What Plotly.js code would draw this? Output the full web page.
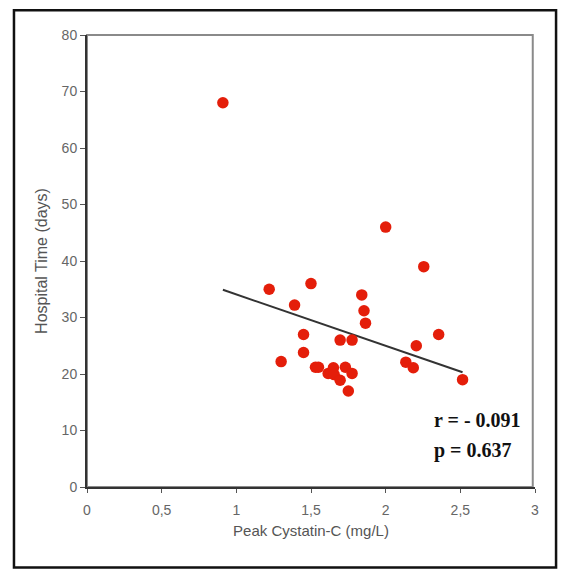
<!DOCTYPE html>
<html>
<head>
<meta charset="utf-8">
<script src="https://cdn.plot.ly/plotly-3.0.1.min.js"></script>
<style>
html,body{margin:0;padding:0;background:#fff;}
#chart{width:561px;height:570px;}
</style>
</head>
<body>
<div id="chart"></div>
<script>
// Data
var cystatin = [0.91, 1.22, 1.30, 1.39, 1.45, 1.45, 1.50, 1.53, 1.55, 1.615, 1.65, 1.655, 1.695, 1.73, 1.775, 1.75, 1.695, 1.775, 1.84, 1.855, 1.865, 2.00, 2.255, 2.355, 2.205, 2.135, 2.185, 2.515];
var hospitalDays = [68, 35, 22.2, 32.2, 27, 23.8, 36, 21.2, 21.2, 20.1, 21.1, 19.9, 18.9, 21.2, 20.1, 17, 26, 26, 34, 31.2, 29, 46, 39, 27, 25, 22.1, 21.1, 19];
var fitX = [0.91, 2.515];
var fitY = [34.9, 20.3];
var statLabels = ["r = - 0.091", "p = 0.637"];
var xTicks = [0, 0.5, 1, 1.5, 2, 2.5, 3];
var yTicks = [0, 10, 20, 30, 40, 50, 60, 70, 80];

var tickFont = {family: "Liberation Sans Narrow, Liberation Sans, Arial, sans-serif", size: 14, color: "#666"};
var titleFont = {family: "Liberation Sans Narrow, Liberation Sans, Arial, sans-serif", size: 15, color: "#555"};

var traces = [
  {
    x: fitX, y: fitY, type: "scatter", mode: "lines",
    line: {color: "#333", width: 2}, hoverinfo: "skip", showlegend: false
  },
  {
    x: cystatin, y: hospitalDays, type: "scatter", mode: "markers",
    marker: {color: "#e41e0a", size: 11.5, line: {width: 0}}, showlegend: false
  }
];

var layout = {
  width: 561, height: 570,
  margin: {l: 87, r: 26, t: 35, b: 83},
  paper_bgcolor: "#fff", plot_bgcolor: "#fff",
  separators: ", ",
  showlegend: false,
  xaxis: {
    range: [0, 3], tickvals: xTicks, tickformat: ".1~f",
    showgrid: false, zeroline: false,
    showline: true, linecolor: "#333", linewidth: 2,
    ticks: "outside", ticklen: 4, tickcolor: "#555", tickwidth: 1,
    tickfont: tickFont, ticklabelstandoff: 5,
    title: {text: "Peak Cystatin-C (mg/L)", font: titleFont, standoff: 9}
  },
  yaxis: {
    range: [0, 80], tickvals: yTicks,
    showgrid: false, zeroline: false,
    showline: true, linecolor: "#333", linewidth: 2,
    ticks: "outside", ticklen: 5, tickcolor: "#555", tickwidth: 1,
    tickfont: tickFont,
    title: {text: "Hospital Time (days)", font: {family: titleFont.family, size: 16, color: "#555"}, standoff: 10}
  },
  shapes: [
    {type: "rect", xref: "paper", yref: "paper", x0: 0, x1: 0.995, y0: 0, y1: 1,
     line: {color: "#8a8a8a", width: 2}, layer: "below"},
    {type: "rect", xref: "paper", yref: "paper", x0: -0.163, x1: 1.047, y0: -0.178, y1: 1.055,
     line: {color: "#111", width: 2.5}, layer: "below"}
  ],
  annotations: [
    {xref: "x", yref: "y", x: 2.31, y: 11.9, xanchor: "left", yanchor: "middle",
     text: "<b>" + statLabels[0] + "</b>", showarrow: false,
     font: {family: "Liberation Serif, Times New Roman, serif", size: 20, color: "#111"}},
    {xref: "x", yref: "y", x: 2.31, y: 6.4, xanchor: "left", yanchor: "middle",
     text: "<b>" + statLabels[1] + "</b>", showarrow: false,
     font: {family: "Liberation Serif, Times New Roman, serif", size: 20, color: "#111"}}
  ]
};

Plotly.newPlot("chart", traces, layout, {displayModeBar: false, staticPlot: true});
</script>
</body>
</html>
